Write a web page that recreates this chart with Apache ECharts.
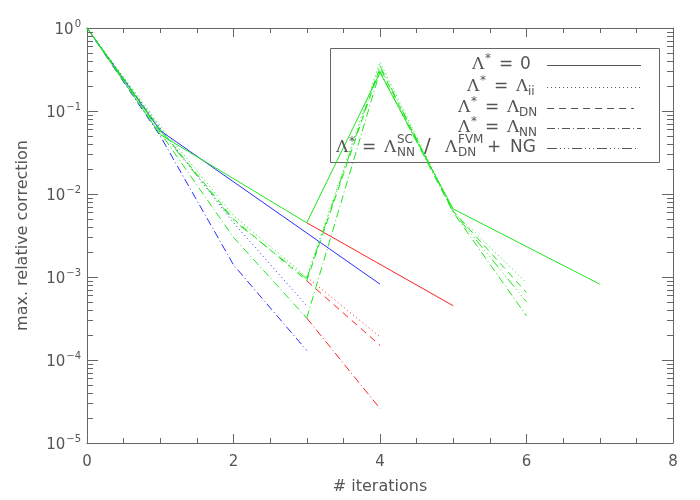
<!DOCTYPE html>
<html><head><meta charset="utf-8">
<script src="https://cdn.jsdelivr.net/npm/echarts@6/dist/echarts.min.js"></script>
<style>html,body{margin:0;padding:0;background:#fff}#c{width:700px;height:500px}</style>
</head><body><div id="c"></div>
<script>
const xTickLabels = ['0','2','4','6','8'];
const yDecadeExps = [-5,-4,-3,-2,-1,0];

// Λ* = 0  (solid)
const solidBlue   = [[0,1],[1,0.058],[4,8.2e-4]];
const solidGreen  = [[0,1],[1,0.052],[3,4.5e-3]];
const solidRed    = [[3,4.5e-3],[5,4.5e-4]];
const solidGreen2 = [[3,4.5e-3],[4,0.29],[5,6.6e-3],[7,8.2e-4]];
// Λ* = Λii  (dotted)
const dotBlue   = [[0,1],[1,0.062],[2,4.5e-3],[3,4.5e-4]];
const dotGreen  = [[0,1],[1,0.066],[2,5.5e-3],[3,1.0e-3]];
const dotRed    = [[3,1.0e-3],[4,1.9e-4]];
const dotGreen2 = [[3,1.0e-3],[4,0.39],[5,6.2e-3],[6,8.5e-4]];
// Λ* = ΛDN  (dashed)
const dashGreen  = [[0,1],[1,0.06],[2,5.0e-3],[3,9.0e-4]];
const dashRed    = [[3,9.0e-4],[4,1.5e-4]];
const dashGreen2 = [[3,9.0e-4],[4,0.33],[5,6.2e-3],[6,6.5e-4]];
// Λ* = ΛNN  (dash-dot)
const ddBlue   = [[0,1],[1,0.05],[2,1.4e-3],[3,1.3e-4]];
const ddGreen  = [[0,1],[1,0.055],[2,3.0e-3],[3,3.2e-4]];
const ddRed    = [[3,3.2e-4],[4,2.6e-5]];
const ddGreen2 = [[3,3.2e-4],[4,0.30],[5,6.0e-3],[6,3.4e-4]];
// Λ* = ΛNN^SC / ΛDN^FVM + NG  (dash-dot-dot-dot)
const ngGreen  = [[0,1],[1,0.058],[2,4.8e-3],[3,9.5e-4]];
const ngGreen2 = [[3,9.5e-4],[4,0.35],[5,6.1e-3],[6,5.0e-4]];

const BLUE = '#2b2bff', GREEN = '#1fe61f', RED = '#ff2222', AX = '#666', TXT = '#555';
const DASH = {
  solid: 'solid',
  dot: [1, 3],
  dash: [7, 5],
  dd: [8, 3, 1, 3],
  ng: [10, 3, 1, 3, 1, 3, 1, 3]
};

const defs = [
  [solidBlue, BLUE, 'solid'], [dotBlue, BLUE, 'dot'], [ddBlue, BLUE, 'dd'],
  [solidGreen, GREEN, 'solid'], [dotGreen, GREEN, 'dot'], [dashGreen, GREEN, 'dash'], [ddGreen, GREEN, 'dd'], [ngGreen, GREEN, 'ng'],
  [solidRed, RED, 'solid'], [dotRed, RED, 'dot'], [dashRed, RED, 'dash'], [ddRed, RED, 'dd'],
  [solidGreen2, GREEN, 'solid'], [dotGreen2, GREEN, 'dot'], [dashGreen2, GREEN, 'dash'], [ddGreen2, GREEN, 'dd'], [ngGreen2, GREEN, 'ng']
];

const FONT = 'DejaVu Sans';
const SERIF = 'DejaVu Serif';

const minorY = [];
for (let e = -5; e < 0; e++) for (let m = 2; m <= 9; m++) minorY.push(m * Math.pow(10, e));

const series = defs.map(([d, c, t]) => ({
  type: 'line', data: d, showSymbol: false, symbol: 'none', silent: true,
  lineStyle: { color: c, width: 1, type: DASH[t] }, z: 3
}));
series.push({
  type: 'custom', silent: true, clip: false, z: 4,
  data: minorY.map(v => [0, v]),
  encode: { x: 0, y: 1 },
  renderItem: (params, api) => {
    const v = api.value(1);
    const l = api.coord([0, v]), r = api.coord([8, v]);
    const y = Math.round(l[1]) + 0.5;
    return { type: 'group', children: [
      { type: 'line', shape: { x1: l[0], y1: y, x2: l[0] + 6, y2: y }, style: { stroke: AX, lineWidth: 1 } },
      { type: 'line', shape: { x1: r[0] - 6, y1: y, x2: r[0], y2: y }, style: { stroke: AX, lineWidth: 1 } }
    ]};
  }
});

function xAxisCfg(pos, show) {
  return {
    type: 'value', min: 0, max: 8, interval: 2, position: pos,
    axisLine: { show: true, onZero: false, lineStyle: { color: AX, width: 1 } },
    axisTick: { show: true, inside: true, length: 9, lineStyle: { color: AX } },
    minorTick: { show: true, splitNumber: 4, length: 5, lineStyle: { color: AX } },
    splitLine: { show: false }, minorSplitLine: { show: false },
    axisLabel: { show: show, margin: 12, fontSize: 15, color: TXT, fontFamily: FONT,
      formatter: v => xTickLabels[Math.round(v / 2)] },
    name: show ? '# iterations' : '', nameLocation: 'middle', nameGap: 36,
    nameTextStyle: { fontSize: 16, color: TXT, fontFamily: FONT }
  };
}
function yAxisCfg(pos, show) {
  return {
    type: 'log', logBase: 10, min: 1e-5, max: 1, position: pos,
    axisLine: { show: true, onZero: false, lineStyle: { color: AX, width: 1 } },
    axisTick: { show: true, inside: true, length: 11, lineStyle: { color: AX } },
    splitLine: { show: false },
    axisLabel: { show: show, margin: 6, color: TXT, fontFamily: FONT,
      formatter: v => {
        const e = Math.round(Math.log10(v));
        const idx = yDecadeExps.indexOf(e);
        const s = idx < 0 ? String(e) : (yDecadeExps[idx] === 0 ? '0' : '\u2212' + (-yDecadeExps[idx]));
        return '{b|10}{s|' + s + '}';
      },
      rich: {
        b: { fontSize: 15, color: TXT, fontFamily: FONT, padding: [4, 0, 0, 0] },
        s: { fontSize: 10, color: TXT, fontFamily: FONT, padding: [0, 0, 8, 1] }
      }
    },
    name: show ? 'max. relative correction' : '', nameLocation: 'middle', nameGap: 56,
    nameTextStyle: { fontSize: 16, color: TXT, fontFamily: FONT }
  };
}

function t(x, y, text, size, family) {
  return { type: 'text', x: x, y: y, z: 10, silent: true,
    style: { text: text, fontSize: size, fontFamily: family || FONT, fill: TXT, align: 'left', verticalAlign: 'middle' } };
}
const L = 17, SUP = 12;
const rows = [65, 87, 108, 128, 148];
const graphics = [
  { type: 'rect', z: 1, silent: true, shape: { x: 330.5, y: 48.5, width: 329, height: 114 }, style: { fill: 'none', stroke: AX, lineWidth: 1 } },
  // row 1
  t(472, rows[0], 'Λ', L, SERIF), t(485, rows[0] - 6, '*', SUP), t(499, rows[0], '=', L), t(520, rows[0], '0', L),
  // row 2
  t(467, rows[1], 'Λ', L, SERIF), t(480, rows[1] - 6, '*', SUP), t(494, rows[1], '=', L), t(516, rows[1], 'Λ', L, SERIF), t(528, rows[1] + 5, 'ii', SUP),
  // row 3
  t(458, rows[2], 'Λ', L, SERIF), t(471, rows[2] - 6, '*', SUP), t(485, rows[2], '=', L), t(507, rows[2], 'Λ', L, SERIF), t(519, rows[2] + 5, 'DN', SUP),
  // row 4
  t(458, rows[3], 'Λ', L, SERIF), t(471, rows[3] - 6, '*', SUP), t(485, rows[3], '=', L), t(507, rows[3], 'Λ', L, SERIF), t(519, rows[3] + 5, 'NN', SUP),
  // row 5
  t(336, rows[4], 'Λ', L, SERIF), t(349, rows[4] - 6, '*', SUP), t(362, rows[4], '=', L), t(384, rows[4], 'Λ', L, SERIF),
  t(397, rows[4] - 8, 'SC', SUP), t(397, rows[4] + 5, 'NN', SUP),
  t(424, rows[4] - 1, '/', 20), t(445, rows[4], 'Λ', L, SERIF),
  t(458, rows[4] - 8, 'FVM', SUP), t(458, rows[4] + 5, 'DN', SUP),
  t(487, rows[4], '+', L), t(510, rows[4], 'NG', L),
  // sample lines
  { type: 'line', z: 10, silent: true, shape: { x1: 547, y1: rows[0] + 0.5, x2: 641, y2: rows[0] + 0.5 }, style: { stroke: TXT, lineWidth: 1 } },
  { type: 'line', z: 10, silent: true, shape: { x1: 547, y1: rows[1] + 0.5, x2: 641, y2: rows[1] + 0.5 }, style: { stroke: TXT, lineWidth: 1, lineDash: DASH.dot } },
  { type: 'line', z: 10, silent: true, shape: { x1: 547, y1: rows[2] + 0.5, x2: 634, y2: rows[2] + 0.5 }, style: { stroke: TXT, lineWidth: 1, lineDash: DASH.dash } },
  { type: 'line', z: 10, silent: true, shape: { x1: 547, y1: rows[3] + 0.5, x2: 641, y2: rows[3] + 0.5 }, style: { stroke: TXT, lineWidth: 1, lineDash: DASH.dd } },
  { type: 'line', z: 10, silent: true, shape: { x1: 547, y1: rows[4] + 0.5, x2: 638, y2: rows[4] + 0.5 }, style: { stroke: TXT, lineWidth: 1, lineDash: DASH.ng } }
];

const chart = echarts.init(document.getElementById('c'), null, { renderer: 'canvas' });
chart.setOption({
  animation: false,
  backgroundColor: '#fff',
  grid: { left: 87, right: 27, top: 28, bottom: 56 },
  xAxis: [xAxisCfg('bottom', true), xAxisCfg('top', false)],
  yAxis: [yAxisCfg('left', true), yAxisCfg('right', false)],
  series: series,
  graphic: graphics
});
</script></body></html>
